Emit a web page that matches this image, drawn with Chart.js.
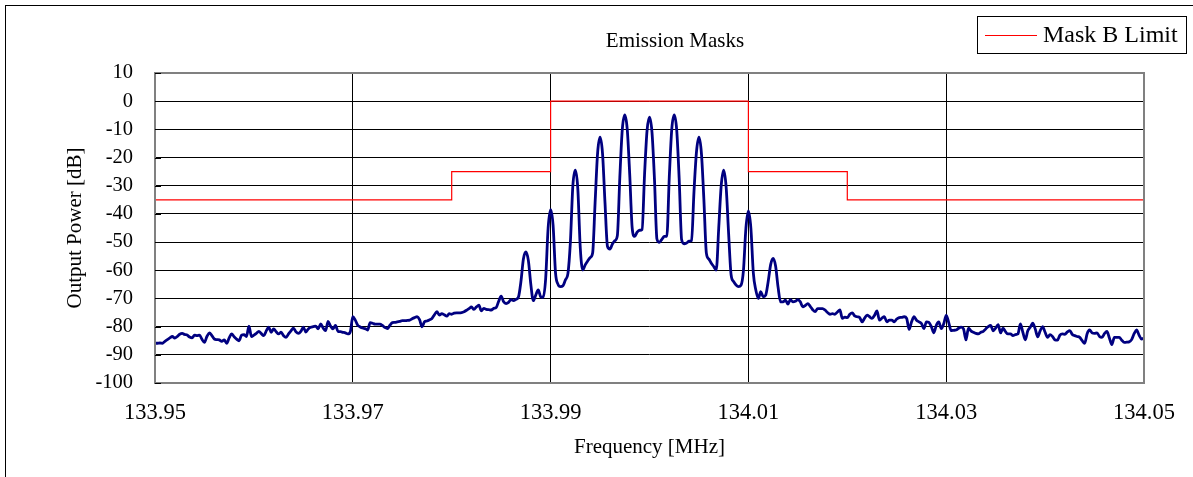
<!DOCTYPE html>
<html><head><meta charset="utf-8">
<script src="https://cdn.jsdelivr.net/npm/chart.js@4/dist/chart.umd.min.js"></script>
<style>html,body{margin:0;padding:0;background:#fff;overflow:hidden}#wrap{width:1193px;height:477px}</style>
</head><body><div id="wrap"><canvas id="c" width="1193" height="477"></canvas></div>
<script>
// ---- data ----
const sweepStartMHz = 133.95;      // first sample frequency
const sweepStepMHz = 0.00025;      // analyser bin spacing
const outputPowerDb = [
  -85.9,-85.9,-85.8,-85.9,-85.2,-84.6,-84.0,-83.5,-84.1,-83.5,
  -82.7,-82.4,-82.8,-83.0,-83.7,-84.0,-83.0,-83.2,-83.0,-84.5,
  -85.6,-83.5,-82.2,-83.2,-84.4,-84.6,-84.7,-85.2,-84.7,-85.9,
  -84.0,-82.6,-83.6,-84.4,-85.0,-83.0,-82.8,-83.5,-79.8,-83.5,
  -83.0,-82.4,-81.7,-82.5,-83.2,-81.5,-80.2,-82.0,-80.8,-81.8,
  -82.6,-82.0,-83.2,-83.8,-82.6,-81.5,-80.5,-81.8,-82.4,-81.7,
  -80.2,-81.9,-80.8,-80.2,-80.0,-79.8,-80.8,-79.0,-80.5,-81.4,
  -78.1,-79.8,-80.8,-79.6,-81.7,-81.8,-82.0,-82.2,-82.6,-81.8,
  -76.5,-77.7,-79.5,-80.1,-80.5,-80.7,-81.2,-78.6,-78.8,-79.1,
  -79.1,-79.1,-79.6,-80.3,-80.7,-79.5,-78.6,-78.5,-78.3,-78.1,
  -77.9,-77.9,-77.8,-77.7,-77.2,-76.8,-76.5,-77.5,-80.1,-78.3,
  -78.0,-77.6,-77.1,-75.8,-74.7,-75.9,-75.4,-75.8,-76.3,-75.4,
  -75.6,-75.2,-75.1,-75.1,-75.0,-74.7,-74.2,-73.6,-73.0,-73.9,
  -73.0,-72.4,-74.4,-73.5,-73.9,-74.0,-74.1,-73.5,-73.2,-71.0,
  -69.2,-71.2,-71.8,-71.4,-70.4,-70.8,-70.3,-69.5,-64.0,-56.0,
  -53.5,-56.5,-65.0,-70.8,-68.8,-67.0,-69.4,-69.6,-63.0,-45.0,
  -38.5,-44.0,-61.0,-65.0,-65.8,-65.5,-63.4,-61.2,-50.0,-30.0,
  -24.5,-31.0,-52.0,-59.9,-58.1,-56.7,-55.5,-53.9,-36.0,-18.5,
  -12.8,-18.5,-36.0,-51.5,-52.5,-50.7,-49.5,-47.7,-27.0,-10.0,
  -4.9,-10.0,-26.0,-45.0,-48.0,-46.5,-45.8,-45.5,-26.0,-10.5,
  -5.7,-11.0,-27.5,-48.9,-50.1,-49.0,-48.0,-48.0,-27.0,-10.0,
  -4.9,-10.2,-27.5,-49.2,-50.6,-50.3,-49.7,-49.5,-32.0,-18.0,
  -12.8,-18.5,-35.0,-53.9,-56.0,-57.5,-58.7,-59.9,-45.0,-30.0,
  -24.5,-30.5,-47.0,-61.6,-64.0,-65.2,-65.8,-65.3,-60.0,-45.0,
  -38.9,-45.0,-61.0,-67.0,-70.0,-67.6,-69.4,-68.8,-64.0,-58.0,
  -55.8,-58.5,-66.0,-71.2,-71.2,-70.6,-72.0,-70.4,-71.2,-71.0,
  -70.4,-71.2,-73.0,-72.5,-71.8,-72.8,-74.0,-74.7,-73.6,-73.6,
  -73.6,-74.1,-75.0,-75.6,-75.4,-75.6,-74.8,-74.1,-77.1,-76.6,
  -76.8,-75.6,-75.1,-76.2,-76.5,-76.8,-78.3,-77.0,-75.9,-76.5,
  -77.1,-76.0,-74.4,-77.7,-77.0,-76.5,-78.3,-77.7,-77.7,-78.3,
  -77.3,-76.8,-76.7,-76.5,-77.1,-81.0,-78.3,-76.5,-77.7,-78.3,
  -78.9,-80.7,-78.3,-78.5,-80.0,-82.2,-79.5,-78.3,-80.7,-79.0,
  -76.0,-78.5,-81.4,-81.3,-81.2,-80.6,-80.2,-80.8,-84.7,-80.5,
  -81.5,-82.0,-82.4,-82.6,-82.0,-81.7,-80.8,-80.0,-79.6,-81.5,
  -80.5,-79.3,-82.2,-80.5,-81.8,-82.6,-82.6,-83.2,-82.8,-82.6,
  -79.0,-82.0,-84.7,-81.5,-80.2,-78.8,-80.8,-83.6,-81.5,-80.0,
  -82.0,-83.8,-82.8,-83.5,-84.7,-84.8,-83.0,-82.6,-82.7,-81.9,
  -81.4,-82.8,-83.2,-83.5,-83.8,-85.0,-85.9,-82.5,-81.2,-82.2,
  -82.4,-82.2,-83.5,-83.8,-82.5,-81.7,-84.0,-86.4,-83.8,-83.8,
  -83.8,-84.8,-85.6,-85.5,-85.4,-84.6,-82.5,-81.2,-83.0,-84.4,
  -84.0
];
const maskFreqMHz = [133.95, 133.98, 133.99, 134.01, 134.02, 134.05];
const maskLimitDb = [-35, -25, 0, -25, -35, -35];
const xTickValues = [133.95, 133.97, 133.99, 134.01, 134.03, 134.05];
const xTickLabels = ['133.95', '133.97', '133.99', '134.01', '134.03', '134.05'];
const yTickValues = [10, 0, -10, -20, -30, -40, -50, -60, -70, -80, -90, -100];
const yTickLabels = ['10', '0', '-10', '-20', '-30', '-40', '-50', '-60', '-70', '-80', '-90', '-100'];

const SERIF = "'Liberation Serif', 'Times New Roman', serif";

const spectrumPoints = outputPowerDb.map((p, i) => ({ x: sweepStartMHz + i * sweepStepMHz, y: p }));
const maskPoints = maskFreqMHz.map((f, i) => ({ x: f, y: maskLimitDb[i] }));

const decor = {
  id: 'decor',
  beforeDraw(chart) {
    const ctx = chart.ctx;
    ctx.save();
    ctx.fillStyle = '#fff';
    ctx.fillRect(0, 0, chart.width, chart.height);
    ctx.restore();
  },
  afterDraw(chart) {
    const ctx = chart.ctx;
    const a = chart.chartArea;
    ctx.save();
    // plot area border
    ctx.strokeStyle = '#808080';
    ctx.lineWidth = 2;
    ctx.strokeRect(a.left, a.top, a.right - a.left, a.bottom - a.top);
    // inner y ticks
    ctx.strokeStyle = '#000';
    ctx.lineWidth = 1;
    const ys = chart.scales.y;
    yTickValues.forEach(v => {
      const py = Math.round(ys.getPixelForValue(v)) + 0.5;
      ctx.beginPath(); ctx.moveTo(a.left, py); ctx.lineTo(a.left + 6, py); ctx.stroke();
    });
    // outer frame
    ctx.strokeStyle = '#000';
    ctx.lineWidth = 1;
    ctx.strokeRect(5.5, 5.5, 1300, 600);
    // title
    ctx.fillStyle = '#000';
    ctx.font = '21px ' + SERIF;
    ctx.textAlign = 'center';
    ctx.textBaseline = 'middle';
    ctx.fillText('Emission Masks', 675, 41);
    // legend
    const ds = chart.data.datasets[1];
    ctx.strokeStyle = '#000';
    ctx.lineWidth = 1;
    ctx.strokeRect(977.5, 16.5, 209, 37);
    ctx.strokeStyle = ds.borderColor;
    ctx.lineWidth = 1.2;
    ctx.beginPath(); ctx.moveTo(985, 35.5); ctx.lineTo(1037, 35.5); ctx.stroke();
    ctx.fillStyle = '#000';
    ctx.font = '24px ' + SERIF;
    ctx.textAlign = 'left';
    ctx.fillText(ds.label, 1043, 36);
    ctx.restore();
  }
};

new Chart(document.getElementById('c'), {
  type: 'line',
  data: {
    datasets: [
      {
        label: 'Spectrum',
        data: spectrumPoints,
        borderColor: '#000080',
        borderWidth: 2.8,
        pointRadius: 0,
        fill: false,
        cubicInterpolationMode: 'monotone'
      },
      {
        label: 'Mask B Limit',
        data: maskPoints,
        borderColor: '#ff0000',
        borderWidth: 1.2,
        pointRadius: 0,
        fill: false,
        stepped: true
      }
    ]
  },
  options: {
    responsive: false,
    animation: false,
    devicePixelRatio: 1,
    layout: { padding: { left: 0, right: 49, top: 73, bottom: 0 } },
    plugins: { legend: { display: false }, title: { display: false }, tooltip: { enabled: false } },
    scales: {
      x: {
        type: 'linear',
        min: 133.95,
        max: 134.05,
        afterBuildTicks: s => { s.ticks = xTickValues.map(v => ({ value: v })); },
        afterFit: s => { s.height = 94; },
        ticks: {
          callback: (v, i) => xTickLabels[i],
          color: '#000',
          font: { family: SERIF, size: 22.5 },
          padding: 17,
          maxRotation: 0,
          autoSkip: false
        },
        grid: { color: '#000', lineWidth: 1, drawTicks: false },
        border: { display: false },
        title: { display: true, text: 'Frequency [MHz]', color: '#000', font: { family: SERIF, size: 21 }, padding: { top: 0, bottom: 17 } }
      },
      y: {
        type: 'linear',
        min: -100,
        max: 10,
        afterBuildTicks: s => { s.ticks = yTickValues.map(v => ({ value: v })); },
        afterFit: s => { s.width = 155; },
        ticks: {
          callback: v => yTickLabels[yTickValues.indexOf(v)],
          color: '#000',
          font: { family: SERIF, size: 20.5 },
          padding: 22,
          autoSkip: false
        },
        grid: { color: '#000', lineWidth: 1, drawTicks: false },
        border: { display: false },
        title: { display: true, text: 'Output Power [dB]', color: '#000', font: { family: SERIF, size: 21 }, padding: { top: 63, bottom: 0 } }
      }
    }
  },
  plugins: [decor]
});
</script>
</body></html>
